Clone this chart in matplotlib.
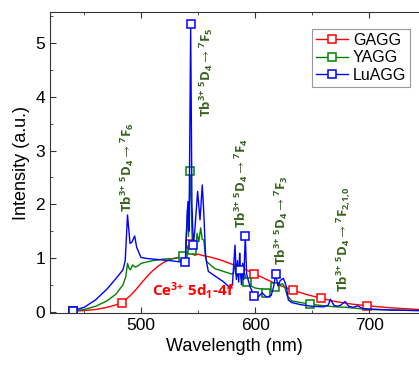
import numpy as np
import matplotlib
matplotlib.use("Agg")
import matplotlib.pyplot as plt
from matplotlib.ticker import MultipleLocator

plt.rcParams['font.family'] = ['Liberation Sans', 'DejaVu Sans']
plt.rcParams['mathtext.fontset'] = 'custom'
plt.rcParams['mathtext.rm'] = 'Open Sans:bold'
plt.rcParams['mathtext.it'] = 'Open Sans:bold'
plt.rcParams['mathtext.bf'] = 'Open Sans:bold'
plt.rcParams['mathtext.default'] = 'regular'

# GAGG
gagg_wl = [440, 450, 460, 470, 477, 483, 490, 495, 500, 505, 510, 515, 520, 525, 530, 535, 540,
           541.5, 543, 544.5, 547, 550, 555, 560, 570, 580, 590, 599, 610, 620, 633, 645, 657.7,
           670, 685, 698, 720, 744]
gagg_int = [0.01, 0.02, 0.04, 0.08, 0.12, 0.17, 0.29, 0.40, 0.53, 0.65, 0.76, 0.85, 0.92, 0.97, 1.00,
            1.02, 1.04, 1.15, 1.26, 1.08, 1.05, 1.07, 1.04, 1.02, 0.96, 0.88, 0.80, 0.71, 0.60, 0.50,
            0.40, 0.32, 0.25, 0.19, 0.14, 0.11, 0.07, 0.04]
gagg_marks = [440, 483, 543, 599, 633, 657.7, 698]

# YAGG
yagg_wl = [440, 450, 460, 470, 478, 484, 486.5, 488, 489.5, 490.5, 492.5, 494.5, 497, 500, 510, 520,
           530, 537, 539, 540.5, 541.5, 543, 545, 546.5, 548, 549, 550.5, 552.2, 553.5, 555, 556,
           557.5, 564.7, 572, 579.4, 581, 582.5, 584, 586, 588, 590, 592.8, 596, 600, 606, 609.5,
           613, 617, 619, 621, 624, 626, 628, 632, 640, 648, 660, 670, 680, 690, 700, 720, 744]
yagg_int = [0.01, 0.04, 0.10, 0.20, 0.33, 0.50, 0.65, 0.90, 0.80, 0.78, 0.87, 0.83, 0.85, 0.90, 0.95,
            0.98, 0.99, 1.04, 1.10, 1.90, 1.40, 2.62, 1.15, 1.30, 1.20, 1.46, 1.30, 1.56, 1.35, 1.33,
            1.10, 0.93, 0.80, 0.75, 0.70, 0.72, 0.90, 0.65, 0.85, 0.60, 0.75, 0.56, 0.48, 0.44, 0.42,
            0.35, 0.40, 0.45, 0.55, 0.50, 0.52, 0.45, 0.30, 0.20, 0.17, 0.14, 0.11, 0.09, 0.08, 0.06,
            0.04, 0.03, 0.02]
yagg_marks = [440, 537, 543, 545, 592.8, 609.5, 617, 648]

# LuAGG
luagg_wl = [440, 450, 460, 470, 478, 484, 486, 488, 490.2, 492, 494.3, 496, 499.8, 505, 515, 525, 533,
            538.7, 540, 541, 542, 543.4, 544.5, 545.7, 547, 549.5, 551.6, 553.6, 555, 556.5, 558.9,
            565, 572, 578, 580, 582.3, 583.5, 584.5, 585.5, 586.4, 587, 588, 589, 590, 591.3, 592.5,
            595.4, 599.2, 603, 606, 610, 614, 616, 618, 620, 622, 624.7, 626, 627.5, 629, 632, 640,
            650, 660, 664, 666, 669, 672, 675, 678.8, 682, 686, 690, 694, 700, 710, 720, 744]
luagg_int = [0.02, 0.08, 0.22, 0.42, 0.62, 0.78, 0.95, 1.80, 1.27, 1.30, 1.41, 1.20, 1.01, 0.99, 0.97,
             0.95, 0.93, 0.93, 1.60, 2.05, 1.50, 5.36, 2.00, 1.25, 1.50, 2.24, 1.71, 2.36, 1.80, 1.02,
             0.75, 0.66, 0.56, 0.44, 0.50, 1.24, 0.60, 0.95, 0.55, 1.09, 0.78, 0.50, 0.90, 0.60, 1.40,
             0.70, 0.47, 0.29, 0.28, 0.35, 0.27, 0.30, 0.45, 0.70, 0.48, 0.58, 0.62, 0.55, 0.45, 0.22,
             0.17, 0.13, 0.10, 0.09, 0.12, 0.23, 0.12, 0.10, 0.12, 0.19, 0.10, 0.08, 0.11, 0.06, 0.05,
             0.04, 0.03, 0.02]
luagg_marks = [440, 538.7, 543.4, 545.7, 587, 591.3, 599.2, 618]

# transition labels: text, x, y (bottom)
tb_labels = [r'Tb$^{3{+}}$ $^5$D$_4$$\rightarrow$$^7$F$_6$',
             r'Tb$^{3{+}}$ $^5$D$_4$$\rightarrow$$^7$F$_5$',
             r'Tb$^{3{+}}$ $^5$D$_4$$\rightarrow$$^7$F$_4$',
             r'Tb$^{3{+}}$ $^5$D$_4$$\rightarrow$$^7$F$_3$',
             r'Tb$^{3{+}}$ $^5$D$_4$$\rightarrow$$^7$F$_{2{,}1{,}0}$']
tb_x = [488, 557.5, 588, 623, 677]
tb_y = [1.86, 3.63, 1.56, 0.87, 0.37]

fig = plt.figure(figsize=(4.19, 3.65), dpi=100)
ax = fig.add_axes([50 / 419, 52 / 365, 369 / 419, 301 / 365])

series = [(gagg_wl, gagg_int, gagg_marks, '#ff0000', 'GAGG'),
          (yagg_wl, yagg_int, yagg_marks, '#008000', 'YAGG'),
          (luagg_wl, luagg_int, luagg_marks, '#0000ff', 'LuAGG')]
for wl, inten, marks, col, name in series:
    idx = [wl.index(m) for m in marks]
    ax.plot(wl, inten, color=col, lw=1.0, marker='s', ms=5.5, mfc='white', mec=col,
            mew=1.1, markevery=idx, label=name)

for t, x, y in zip(tb_labels, tb_x, tb_y):
    ax.text(x, y, t, rotation=90, ha='center', va='bottom', color='#3a6320',
            fontsize=9.5, fontweight='bold', family=['Open Sans', 'DejaVu Sans'])

ax.text(546, 0.2, r'Ce$^{3{+}}$ 5d$_1$-4f', color='#ff0000', fontsize=11, fontweight='bold',
        ha='center', va='bottom', family=['Open Sans', 'DejaVu Sans'])

ax.set_xlim(420, 743.7)
ax.set_ylim(-0.025, 5.58)
ax.xaxis.set_major_locator(MultipleLocator(100))
ax.xaxis.set_minor_locator(MultipleLocator(50))
ax.yaxis.set_major_locator(MultipleLocator(1))
ax.yaxis.set_minor_locator(MultipleLocator(0.5))
ax.tick_params(which='both', direction='in', top=True, right=False, labelsize=12.5, colors='#333333',
               labelcolor='black')
ax.tick_params(which='major', length=4)
ax.tick_params(which='minor', length=2.5)
for s in ax.spines.values():
    s.set_color('#333333')
ax.spines['right'].set_visible(False)

ax.set_xlabel('Wavelength (nm)', fontsize=13)
ax.set_ylabel('Intensity (a.u.)', fontsize=13)

leg = ax.legend(loc='upper right', bbox_to_anchor=(0.985, 0.955), fontsize=11.5, fancybox=False,
                edgecolor='#999999', handlelength=2.0, borderpad=0.25, labelspacing=0.15,
                handletextpad=0.3, borderaxespad=0.2, framealpha=1)
leg.get_frame().set_linewidth(0.8)

fig.savefig('out.png', dpi=100)
